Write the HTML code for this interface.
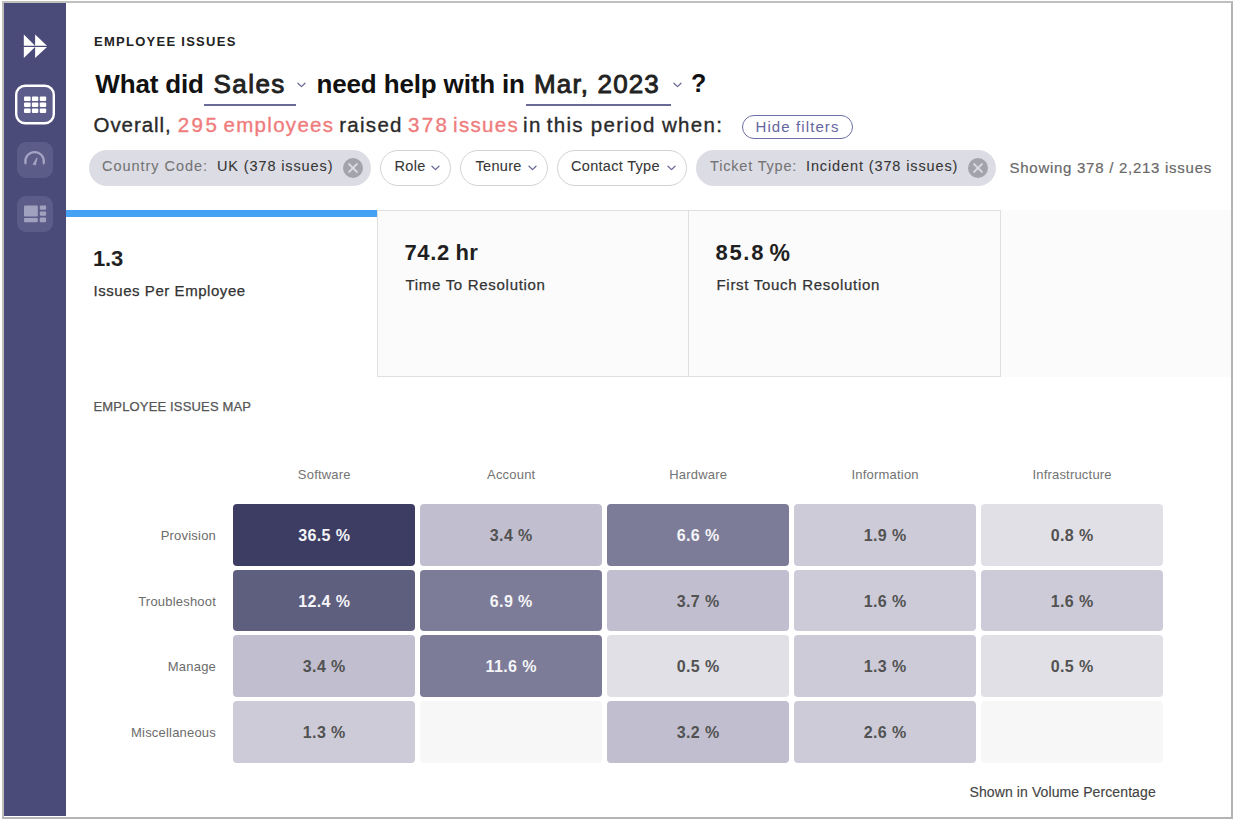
<!DOCTYPE html>
<html><head><meta charset="utf-8">
<style>
*{margin:0;padding:0;box-sizing:border-box;}
html,body{width:1240px;height:824px;background:#fff;overflow:hidden;font-family:"Liberation Sans",sans-serif;}
.abs{position:absolute;white-space:nowrap;}
#frame{position:absolute;left:2px;top:1px;width:1231px;height:817.5px;border:2px solid #b4b4b4;border-top-color:#c0c0be;border-left-color:#bebebc;}
#side{position:absolute;left:4px;top:3px;width:62px;height:812.8px;background:#4b4b7a;}
.chip{position:absolute;top:150.2px;height:35.8px;border-radius:18px;}
.chip.f{background:#dcdce4;}
.chip.o{border:1.4px solid #d2d2d4;background:#fff;}
.ct{position:absolute;white-space:nowrap;font-size:14.5px;top:158px;color:#363636;-webkit-text-stroke:0.08px currentColor;}
.card{position:absolute;top:210px;height:167px;}
.kv{position:absolute;white-space:nowrap;font-weight:bold;font-size:21.5px;color:#1f1f1f;}
.kl{position:absolute;white-space:nowrap;font-size:15px;color:#333;letter-spacing:0.7px;-webkit-text-stroke:0.25px #333;}
.cell{position:absolute;width:182.2px;height:61.8px;border-radius:4px;text-align:center;line-height:63.0px;font-size:16px;font-weight:bold;color:#525252;letter-spacing:0.4px;}
.cell.dk{color:#f5f5f7;}
.rl{position:absolute;left:60px;width:156px;text-align:right;font-size:13px;color:#6c6c6c;line-height:63.8px;letter-spacing:0.2px;}
.ch{position:absolute;width:182.2px;text-align:center;font-size:13px;color:#737373;top:467.2px;letter-spacing:0.2px;}
</style></head><body>
<div id="frame"></div>
<div id="side"></div>
<svg width="62" height="240" viewBox="0 0 62 240" style="position:absolute;left:0;top:0;">
 <g fill="#fff">
  <path d="M23.8 34.5 L35.1 45.7 L23.8 45.7 Z"/>
  <path d="M35.1 34.5 L47 45.7 L35.1 45.7 Z"/>
  <path d="M23.8 46.9 L35.1 46.9 L23.8 57.9 Z"/>
  <path d="M35.1 46.9 L47 46.9 L35.1 57.9 Z"/>
 </g>
 <rect x="16.2" y="85.7" width="37.6" height="37.6" rx="9" fill="#5d5d8b" stroke="#fff" stroke-width="2.4"/>
 <g fill="#fff">
  <rect x="24" y="96.4" width="6.6" height="4.5" rx="1"/><rect x="31.9" y="96.4" width="6.4" height="4.5" rx="1"/><rect x="39.8" y="96.4" width="6.4" height="4.5" rx="1"/>
  <rect x="24" y="102.4" width="6.6" height="4.5" rx="1"/><rect x="31.9" y="102.4" width="6.4" height="4.5" rx="1"/><rect x="39.8" y="102.4" width="6.4" height="4.5" rx="1"/>
  <rect x="24" y="108.4" width="6.6" height="4.7" rx="1"/><rect x="31.9" y="108.4" width="6.4" height="4.7" rx="1"/><rect x="39.8" y="108.4" width="6.4" height="4.7" rx="1"/>
 </g>
 <rect x="17" y="142" width="36" height="36" rx="9" fill="#5c5c89"/>
 <path d="M25.5 163.3 A9.3 9.3 0 1 1 43.7 163.3" fill="none" stroke="#a3a3c4" stroke-width="2.2" stroke-linecap="round"/>
 <path d="M33.4 164.2 L36.9 158.3 L35.2 164.8 Z" fill="#a3a3c4" stroke="#a3a3c4" stroke-width="1.2" stroke-linejoin="round"/>
 <rect x="17" y="196" width="36" height="36" rx="9" fill="#5c5c89"/>
 <g fill="#a0a0bf">
  <rect x="24" y="205.6" width="13.8" height="11" rx="1"/>
  <rect x="24" y="218" width="13.8" height="4.2" rx="1"/>
  <rect x="39.8" y="205.6" width="6.3" height="4.2" rx="1"/>
  <rect x="39.8" y="211.6" width="6.3" height="4.2" rx="1"/>
  <rect x="39.8" y="217.4" width="6.3" height="4.8" rx="1"/>
 </g>
</svg>

<div class="abs" style="left:94px;top:33.8px;font-size:13px;font-weight:bold;letter-spacing:1.27px;color:#222;">EMPLOYEE ISSUES</div>

<div class="abs" style="left:95.3px;top:69.4px;font-size:26px;font-weight:bold;color:#111;letter-spacing:-0.15px;">What did</div>
<div class="abs" style="left:213.5px;top:68.8px;font-size:26px;color:#222;letter-spacing:1.45px;-webkit-text-stroke:0.9px #222;">Sales</div>
<div style="position:absolute;left:204px;top:103.5px;width:91.5px;height:2.2px;background:#6a6a98;"></div>
<svg width="9" height="6" viewBox="0 0 9 6" style="position:absolute;left:296.5px;top:82px;"><path d="M1 1.2 L4.5 4.6 L8 1.2" fill="none" stroke="#6a6a98" stroke-width="1.3" stroke-linecap="round" stroke-linejoin="round"/></svg>
<div class="abs" style="left:316.5px;top:69px;font-size:26px;font-weight:bold;color:#111;letter-spacing:-0.15px;">need help with in</div>
<div class="abs" style="left:534px;top:68.8px;font-size:26px;color:#222;letter-spacing:1.15px;-webkit-text-stroke:0.9px #222;">Mar, 2023</div>
<div style="position:absolute;left:525.5px;top:103.5px;width:145px;height:2.2px;background:#6a6a98;"></div>
<svg width="9" height="6" viewBox="0 0 9 6" style="position:absolute;left:672.5px;top:82px;"><path d="M1 1.2 L4.5 4.6 L8 1.2" fill="none" stroke="#6a6a98" stroke-width="1.3" stroke-linecap="round" stroke-linejoin="round"/></svg>
<div class="abs" style="left:691px;top:69px;font-size:25px;font-weight:bold;color:#111;">?</div>

<div class="abs" style="left:93.5px;top:112.6px;font-size:20.5px;color:#2a2a2a;letter-spacing:0.95px;-webkit-text-stroke:0.35px #2a2a2a;">Overall,</div>
<div class="abs" style="left:177.8px;top:112.6px;font-size:20.5px;color:#ef7c7c;letter-spacing:2.4px;-webkit-text-stroke:0.35px #ef7c7c;">295</div>
<div class="abs" style="left:223.5px;top:112.6px;font-size:20.5px;color:#ef7c7c;letter-spacing:1.3px;-webkit-text-stroke:0.35px #ef7c7c;">employees</div>
<div class="abs" style="left:339.2px;top:112.6px;font-size:20.5px;color:#2a2a2a;letter-spacing:1.3px;-webkit-text-stroke:0.35px #2a2a2a;">raised</div>
<div class="abs" style="left:407.9px;top:112.6px;font-size:20.5px;color:#ef7c7c;letter-spacing:2.4px;-webkit-text-stroke:0.35px #ef7c7c;">378</div>
<div class="abs" style="left:453.1px;top:112.6px;font-size:20.5px;color:#ef7c7c;letter-spacing:1.3px;-webkit-text-stroke:0.35px #ef7c7c;">issues</div>
<div class="abs" style="left:523.1px;top:112.6px;font-size:20.5px;color:#2a2a2a;letter-spacing:1.3px;-webkit-text-stroke:0.35px #2a2a2a;">in</div>
<div class="abs" style="left:546.8px;top:112.6px;font-size:20.5px;color:#2a2a2a;letter-spacing:1.3px;-webkit-text-stroke:0.35px #2a2a2a;">this</div>
<div class="abs" style="left:590.8px;top:112.6px;font-size:20.5px;color:#2a2a2a;letter-spacing:1.3px;-webkit-text-stroke:0.35px #2a2a2a;">period</div>
<div class="abs" style="left:662.0px;top:112.6px;font-size:20.5px;color:#2a2a2a;letter-spacing:1.3px;-webkit-text-stroke:0.35px #2a2a2a;">when:</div>
<div style="position:absolute;left:742px;top:115px;width:111px;height:24px;border:1.2px solid #6d6fa6;border-radius:12px;"></div>
<div class="abs" style="left:755.5px;top:118px;font-size:15px;color:#6466a0;letter-spacing:1.1px;">Hide filters</div>

<div class="chip f" style="left:89px;width:282px;"></div>
<div class="ct" style="left:102px;color:#747474;letter-spacing:0.97px;">Country Code:</div>
<div class="ct" style="left:217px;letter-spacing:0.88px;">UK (378 issues)</div>
<svg width="20" height="20" viewBox="0 0 20 20" style="position:absolute;left:343px;top:158px;"><circle cx="10" cy="10" r="10" fill="#a3a4ab"/><path d="M6.1 6.1 L13.9 13.9 M13.9 6.1 L6.1 13.9" stroke="#dcdce4" stroke-width="1.9" stroke-linecap="round"/></svg>
<div class="chip o" style="left:380px;width:71px;"></div>
<div class="ct" style="left:394.5px;letter-spacing:0.3px;">Role</div>
<svg width="9" height="6" viewBox="0 0 9 6" style="position:absolute;left:431px;top:164.7px;"><path d="M1 1.2 L4.5 4.6 L8 1.2" fill="none" stroke="#6a6a98" stroke-width="1.3" stroke-linecap="round" stroke-linejoin="round"/></svg>
<div class="chip o" style="left:460px;width:87.5px;"></div>
<div class="ct" style="left:475.5px;letter-spacing:0.3px;">Tenure</div>
<svg width="9" height="6" viewBox="0 0 9 6" style="position:absolute;left:528px;top:164.7px;"><path d="M1 1.2 L4.5 4.6 L8 1.2" fill="none" stroke="#6a6a98" stroke-width="1.3" stroke-linecap="round" stroke-linejoin="round"/></svg>
<div class="chip o" style="left:557px;width:130px;"></div>
<div class="ct" style="left:571px;letter-spacing:0.3px;">Contact Type</div>
<svg width="9" height="6" viewBox="0 0 9 6" style="position:absolute;left:667px;top:164.7px;"><path d="M1 1.2 L4.5 4.6 L8 1.2" fill="none" stroke="#6a6a98" stroke-width="1.3" stroke-linecap="round" stroke-linejoin="round"/></svg>
<div class="chip f" style="left:696px;width:300px;"></div>
<div class="ct" style="left:710px;color:#747474;letter-spacing:0.82px;">Ticket Type:</div>
<div class="ct" style="left:806px;letter-spacing:0.88px;">Incident (378 issues)</div>
<svg width="20" height="20" viewBox="0 0 20 20" style="position:absolute;left:968.3px;top:158px;"><circle cx="10" cy="10" r="10" fill="#a3a4ab"/><path d="M6.1 6.1 L13.9 13.9 M13.9 6.1 L6.1 13.9" stroke="#dcdce4" stroke-width="1.9" stroke-linecap="round"/></svg>
<div class="ct" style="left:1009.5px;top:159px;color:#6a6a6a;letter-spacing:0.73px;font-size:15px;-webkit-text-stroke:0.2px #666;">Showing 378 / 2,213 issues</div>

<div class="card" style="left:66px;width:311px;background:#fff;"><div style="position:absolute;left:0;top:0;width:311.5px;height:6.6px;background:#46a1f5;"></div></div>
<div class="card" style="left:377px;width:312px;background:#fbfbfb;border:1px solid #e0e0e0;"></div>
<div class="card" style="left:688px;width:313px;background:#fbfbfb;border:1px solid #e0e0e0;"></div>
<div class="card" style="left:1001px;width:230px;background:#fbfbfb;"></div>

<div class="kv" style="left:93px;top:245.5px;font-size:22px;letter-spacing:-0.2px;">1.3</div>
<div class="kl" style="left:93.5px;top:282px;letter-spacing:0.55px;">Issues Per Employee</div>
<div class="kv" style="left:404.5px;top:240px;font-size:22px;letter-spacing:0.6px;">74.2</div><div class="kv" style="left:455.5px;top:240px;font-size:22px;letter-spacing:0.3px;">hr</div>
<div class="kl" style="left:405.5px;top:276px;">Time To Resolution</div>
<div class="kv" style="left:715.5px;top:240px;font-size:22px;letter-spacing:1.7px;">85.8</div><div class="kv" style="left:769.5px;top:240px;font-size:23px;">%</div>
<div class="kl" style="left:716.5px;top:276px;">First Touch Resolution</div>

<div class="abs" style="left:93.5px;top:399px;font-size:13px;color:#555;letter-spacing:0.16px;-webkit-text-stroke:0.25px #555;">EMPLOYEE ISSUES MAP</div>

<div class="ch" style="left:233.20px;">Software</div>
<div class="ch" style="left:420.15px;">Account</div>
<div class="ch" style="left:607.10px;">Hardware</div>
<div class="ch" style="left:794.05px;">Information</div>
<div class="ch" style="left:981.00px;">Infrastructure</div>
<div class="rl" style="top:504.00px;">Provision</div>
<div class="cell dk" style="left:233.20px;top:504.00px;background:#3d3d63;">36.5 %</div>
<div class="cell" style="left:420.15px;top:504.00px;background:#c1bfcf;">3.4 %</div>
<div class="cell dk" style="left:607.10px;top:504.00px;background:#7d7c98;">6.6 %</div>
<div class="cell" style="left:794.05px;top:504.00px;background:#cdcbd8;">1.9 %</div>
<div class="cell" style="left:981.00px;top:504.00px;background:#e1e0e6;">0.8 %</div>
<div class="rl" style="top:569.60px;">Troubleshoot</div>
<div class="cell dk" style="left:233.20px;top:569.60px;background:#5e5e7e;">12.4 %</div>
<div class="cell dk" style="left:420.15px;top:569.60px;background:#7d7c98;">6.9 %</div>
<div class="cell" style="left:607.10px;top:569.60px;background:#c1bfcf;">3.7 %</div>
<div class="cell" style="left:794.05px;top:569.60px;background:#cdcbd8;">1.6 %</div>
<div class="cell" style="left:981.00px;top:569.60px;background:#cdcbd8;">1.6 %</div>
<div class="rl" style="top:635.20px;">Manage</div>
<div class="cell" style="left:233.20px;top:635.20px;background:#c1bfcf;">3.4 %</div>
<div class="cell dk" style="left:420.15px;top:635.20px;background:#7d7c98;">11.6 %</div>
<div class="cell" style="left:607.10px;top:635.20px;background:#e1e0e6;">0.5 %</div>
<div class="cell" style="left:794.05px;top:635.20px;background:#cdcbd8;">1.3 %</div>
<div class="cell" style="left:981.00px;top:635.20px;background:#e1e0e6;">0.5 %</div>
<div class="rl" style="top:700.80px;">Miscellaneous</div>
<div class="cell" style="left:233.20px;top:700.80px;background:#cdcbd8;">1.3 %</div>
<div class="cell" style="left:420.15px;top:700.80px;background:#f7f7f7;"></div>
<div class="cell" style="left:607.10px;top:700.80px;background:#c1bfcf;">3.2 %</div>
<div class="cell" style="left:794.05px;top:700.80px;background:#cdcbd8;">2.6 %</div>
<div class="cell" style="left:981.00px;top:700.80px;background:#f7f7f7;"></div>

<div class="abs" style="left:969.5px;top:784px;font-size:14px;color:#444;letter-spacing:0.1px;-webkit-text-stroke:0.15px #444;">Shown in Volume Percentage</div>
</body></html>
